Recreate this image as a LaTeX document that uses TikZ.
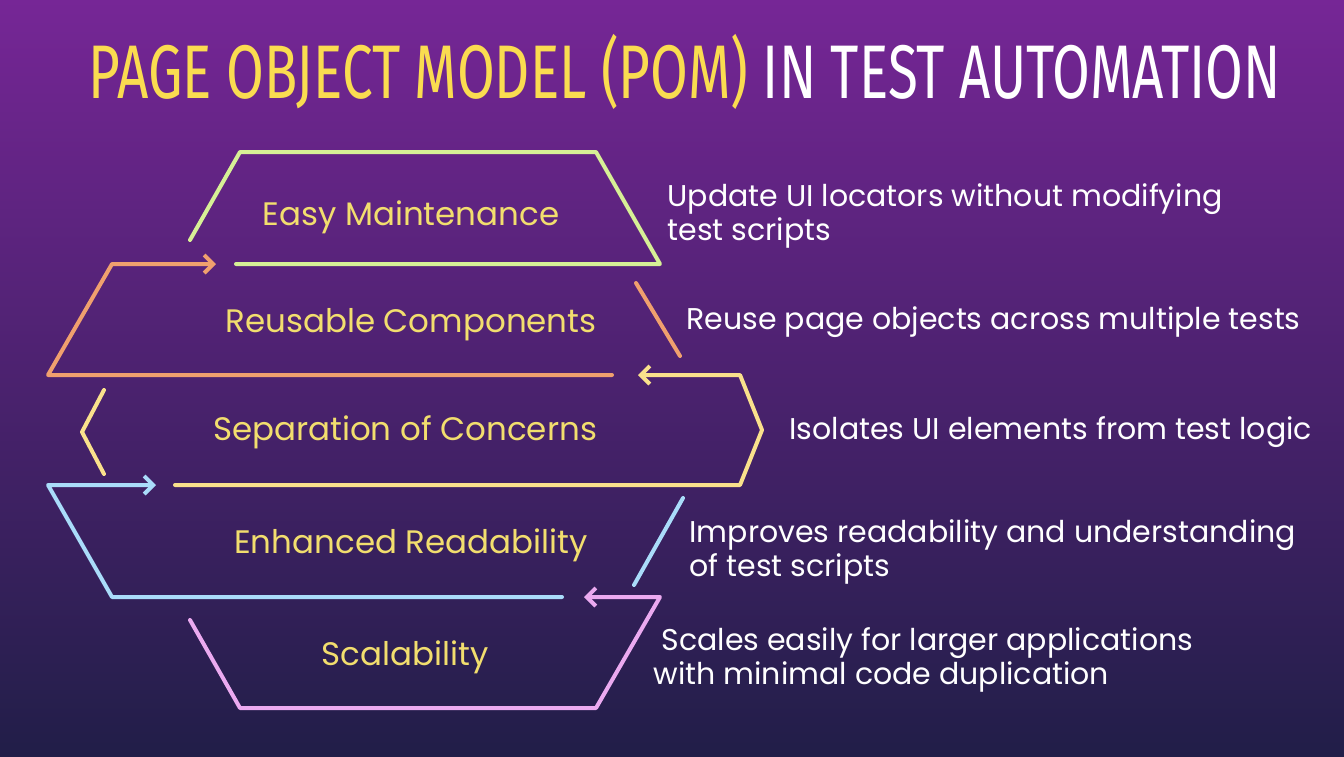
\documentclass[tikz,border=0pt]{standalone}
\usepackage{fontspec}
\setmainfont{Poppins}
\newfontfamily\titlefont{Fira Sans}
\usetikzlibrary{arrows.meta}
\definecolor{bgtop}{RGB}{118,38,150}
\definecolor{bgbot}{RGB}{33,30,72}
\definecolor{lgreen}{RGB}{215,240,150}
\definecolor{lorange}{RGB}{240,160,110}
\definecolor{lyellow}{RGB}{250,225,140}
\definecolor{lblue}{RGB}{170,220,250}
\definecolor{lpink}{RGB}{235,170,240}
\definecolor{labyellow}{RGB}{242,222,110}
\definecolor{titleyellow}{RGB}{250,220,80}
\tikzset{
  band/.style={line width=4pt, line cap=round, line join=round},
  arr/.style={band, -{Straight Barb[length=9pt,width=18pt,line width=4pt]}},
  lab/.style={text=labyellow, font=\fontsize{32.5}{36}\selectfont},
  desc/.style={text=white, font=\fontsize{30}{34}\selectfont, align=left, anchor=west}
}
\begin{document}
\begin{tikzpicture}[x=1pt,y=-1pt]
\shade[top color=bgtop, bottom color=bgbot] (0,0) rectangle (1344,756);
\useasboundingbox (0,0) rectangle (1344,756);
\node (title) at (685,72) {\titlefont\fontsize{76}{80}\selectfont\scalebox{0.72}[1]{\color{titleyellow}PAGE OBJECT MODEL (POM) \color{white}IN TEST AUTOMATION}};
% Easy Maintenance
\coordinate (e1) at (190,240); \coordinate (e2) at (240,152); \coordinate (e3) at (596,152);
\coordinate (e4) at (660,264); \coordinate (e5) at (236,264);
\draw[band,lgreen] (e1) -- (e2) -- (e3) -- (e4) -- (e5);
% Reusable
\coordinate (r1) at (636,283); \coordinate (r2) at (680,356);
\coordinate (r3) at (612,375); \coordinate (r4) at (48,375); \coordinate (r5) at (112,264); \coordinate (r6) at (216,264);
\draw[band,lorange] (r1) -- (r2);
\draw[arr,lorange] (r3) -- (r4) -- (r5) -- (r6);
% Separation
\coordinate (s1) at (175,485); \coordinate (s2) at (740,485); \coordinate (s3) at (762,430);
\coordinate (s4) at (740,375); \coordinate (s5) at (638,375);
\coordinate (s6) at (104,390); \coordinate (s7) at (82,432); \coordinate (s8) at (104,474);
\draw[arr,lyellow] (s1) -- (s2) -- (s3) -- (s4) -- (s5);
\draw[band,lyellow] (s6) -- (s7) -- (s8);
% Enhanced
\coordinate (h1) at (562,597); \coordinate (h2) at (112,597); \coordinate (h3) at (48,485); \coordinate (h4) at (156,485);
\coordinate (h5) at (683,498); \coordinate (h6) at (634,585);
\draw[arr,lblue] (h1) -- (h2) -- (h3) -- (h4);
\draw[band,lblue] (h5) -- (h6);
% Scalability
\coordinate (c1) at (190,620); \coordinate (c2) at (240,708); \coordinate (c3) at (596,708);
\coordinate (c4) at (660,597); \coordinate (c5) at (584,597);
\draw[arr,lpink] (c1) -- (c2) -- (c3) -- (c4) -- (c5);
% labels
\node[lab] (l1) at (411,217) {Easy Maintenance};
\node[lab] (l2) at (411,325) {Reusable Components};
\node[lab] (l3) at (405,432) {Separation of Concerns};
\node[lab] (l4) at (411,545) {Enhanced Readability};
\node[lab] (l5) at (405,657) {Scalability};
\node[desc] (d1) at (664,216) {Update UI locators without modifying\\test scripts};
\node[desc] (d2) at (683,322) {Reuse page objects across multiple tests};
\node[desc] (d3) at (786,432) {Isolates UI elements from test logic};
\node[desc] (d4) at (686,552) {Improves readability and understanding\\of test scripts};
\node[desc] (d5) at (650,660) {\ Scales easily for larger applications\\with minimal code duplication};
\end{tikzpicture}
\end{document}
